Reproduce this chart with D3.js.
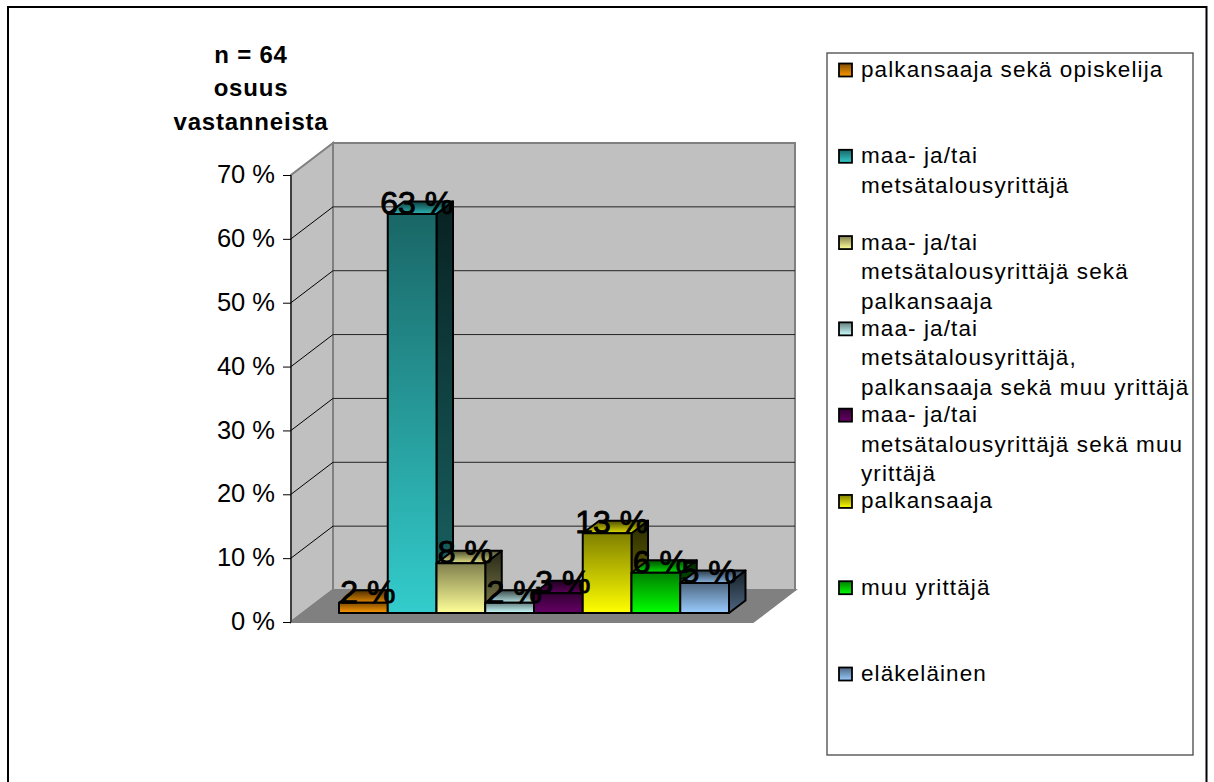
<!DOCTYPE html>
<html><head><meta charset="utf-8">
<script src="https://cdn.jsdelivr.net/npm/d3@7"></script>
<style>html,body{margin:0;padding:0;background:#fff;overflow:hidden}svg{display:block}text{font-family:"Liberation Sans",Arial,sans-serif;fill:#000}</style>
</head><body>
<script>
const categories = ["palkansaaja sekä opiskelija","maa- ja/tai metsätalousyrittäjä","maa- ja/tai metsätalousyrittäjä sekä palkansaaja","maa- ja/tai metsätalousyrittäjä, palkansaaja sekä muu yrittäjä","maa- ja/tai metsätalousyrittäjä sekä muu yrittäjä","palkansaaja","muu yrittäjä","eläkeläinen"];
const legendLines = [["palkansaaja sekä opiskelija"],["maa- ja/tai","metsätalousyrittäjä"],["maa- ja/tai","metsätalousyrittäjä sekä","palkansaaja"],["maa- ja/tai","metsätalousyrittäjä,","palkansaaja sekä muu yrittäjä"],["maa- ja/tai","metsätalousyrittäjä sekä muu","yrittäjä"],["palkansaaja"],["muu yrittäjä"],["eläkeläinen"]];
const values = [1.6,62.5,7.8,1.6,3.1,12.5,6.3,4.7];
const colors = ["#ff9900","#33cccc","#ffff99","#ccffff","#660066","#ffff00","#00ff00","#99ccff"];
const ticks = [0,10,20,30,40,50,60,70];
const titleLines = ["n = 64","osuus","vastanneista"];

const W=1214,H=782;
const svg=d3.select("body").append("svg").attr("width",W).attr("height",H);
const defs=svg.append("defs");
const y=d3.scaleLinear().domain([0,70]).range([622,175]);
const wall={dx:42,dy:-32}, depth={dx:16.5,dy:-12.5}, floorW=462, barBase=9;
const x=d3.scaleBand().domain(categories).range([339,729]);
const left=291;
const poly=p=>p.map(q=>q.join(",")).join(" ");
const shade=(c,k)=>{const r=d3.rgb(c);return d3.rgb(r.r*k,r.g*k,r.b*k).formatHex();};
function grad(id,a,b){const g=defs.append("linearGradient").attr("id",id).attr("x1",0).attr("y1",0).attr("x2",0).attr("y2",1);
 g.append("stop").attr("offset",0).attr("stop-color",a);g.append("stop").attr("offset",1).attr("stop-color",b);}
colors.forEach((c,i)=>{grad("f"+i,shade(c,.5),c);grad("s"+i,shade(c,.16),shade(c,.5));grad("t"+i,shade(c,.3),shade(c,.88));});

// frame
svg.append("path").attr("d",`M8,${H} V7 H1206.5 V${H}`).attr("fill","none").attr("stroke","#000").attr("stroke-width",2);

// walls
const y0=y(0),yT=y(70);
svg.append("polygon").attr("points",poly([[left,y0],[left,yT],[left+wall.dx,yT+wall.dy],[left+wall.dx,y0+wall.dy]])).attr("fill","#c0c0c0").attr("stroke","#808080").attr("stroke-width",2);
svg.append("polygon").attr("points",poly([[left+wall.dx,yT+wall.dy],[left+wall.dx+floorW,yT+wall.dy],[left+wall.dx+floorW,y0+wall.dy],[left+wall.dx,y0+wall.dy]])).attr("fill","#c0c0c0").attr("stroke","#808080").attr("stroke-width",2);
svg.append("polygon").attr("points",poly([[left,y0],[left+wall.dx,y0+wall.dy],[left+wall.dx+floorW,y0+wall.dy],[left+floorW,y0]])).attr("fill","#808080").attr("stroke","#808080").attr("stroke-width",2);

// grid
ticks.forEach(t=>{const v=y(t);
 if(t>0&&t<70){svg.append("line").attr("x1",left+wall.dx).attr("x2",left+wall.dx+floorW).attr("y1",v+wall.dy).attr("y2",v+wall.dy).attr("stroke","#222").attr("stroke-width",1);}
 if(t<70){svg.append("line").attr("x1",left).attr("x2",left+wall.dx).attr("y1",v).attr("y2",v+wall.dy).attr("stroke",t?"#000":"#808080").attr("stroke-width",1);}
});
// axis
const axis=d3.axisLeft(y).tickValues(ticks).tickSize(8).tickPadding(8).tickFormat(d=>d+" %");
const ag=svg.append("g").attr("transform",`translate(${left},0)`).call(axis);
ag.select(".domain").attr("stroke","#000").attr("stroke-width",1).attr("d",`M0,${y0}V${yT}`);
ag.selectAll("line").attr("stroke","#000");
ag.selectAll("text").attr("font-size",25.5).attr("font-family","Liberation Sans").attr("fill","#000").attr("dy","0.3em");

// bars
const b0=y0-barBase;
categories.forEach((c,i)=>{
 const xl=x(c),xr=xl+x.bandwidth(),top=b0-(y0-y(values[i]));
 const g=svg.append("g").attr("stroke","#000").attr("stroke-width",2).attr("stroke-linejoin","round");
 g.append("polygon").attr("points",poly([[xr,b0],[xr,top],[xr+depth.dx,top+depth.dy],[xr+depth.dx,b0+depth.dy]])).attr("fill",`url(#s${i})`);
 g.append("polygon").attr("points",poly([[xl,top],[xl+depth.dx,top+depth.dy],[xr+depth.dx,top+depth.dy],[xr,top]])).attr("fill",`url(#t${i})`);
 g.append("polygon").attr("points",poly([[xl,top],[xr,top],[xr,b0],[xl,b0]])).attr("fill",`url(#f${i})`);
});
// labels
categories.forEach((c,i)=>{
 const xl=x(c),top=b0-(y0-y(values[i]));
 svg.append("text").attr("x",xl+x.bandwidth()/2+4.5).attr("y",top).attr("text-anchor","middle")
  .attr("font-size",32).attr("stroke","#000").attr("stroke-width",.9).text(Math.round(values[i])+" %");
});

// title
titleLines.forEach((t,i)=>svg.append("text").attr("x",251).attr("y",[63,96,130][i]).attr("text-anchor","middle")
 .attr("font-size",24).attr("font-weight","bold").attr("letter-spacing",.8).text(t));

// legend
svg.append("rect").attr("x",827).attr("y",53).attr("width",366).attr("height",702).attr("fill","#fff").attr("stroke","#555").attr("stroke-width",1.4);
const ly=d3.scalePoint().domain(categories).range([70,674]);
categories.forEach((c,i)=>{
 svg.append("rect").attr("x",839).attr("y",ly(c)-6.5).attr("width",13).attr("height",13).attr("fill",`url(#f${i})`).attr("stroke","#000").attr("stroke-width",1.8);
 legendLines[i].forEach((l,j)=>svg.append("text").attr("x",861).attr("y",ly(c)+7+j*29.5).attr("font-size",22.5).attr("letter-spacing",1.1).text(l));
});
</script>
</body></html>
